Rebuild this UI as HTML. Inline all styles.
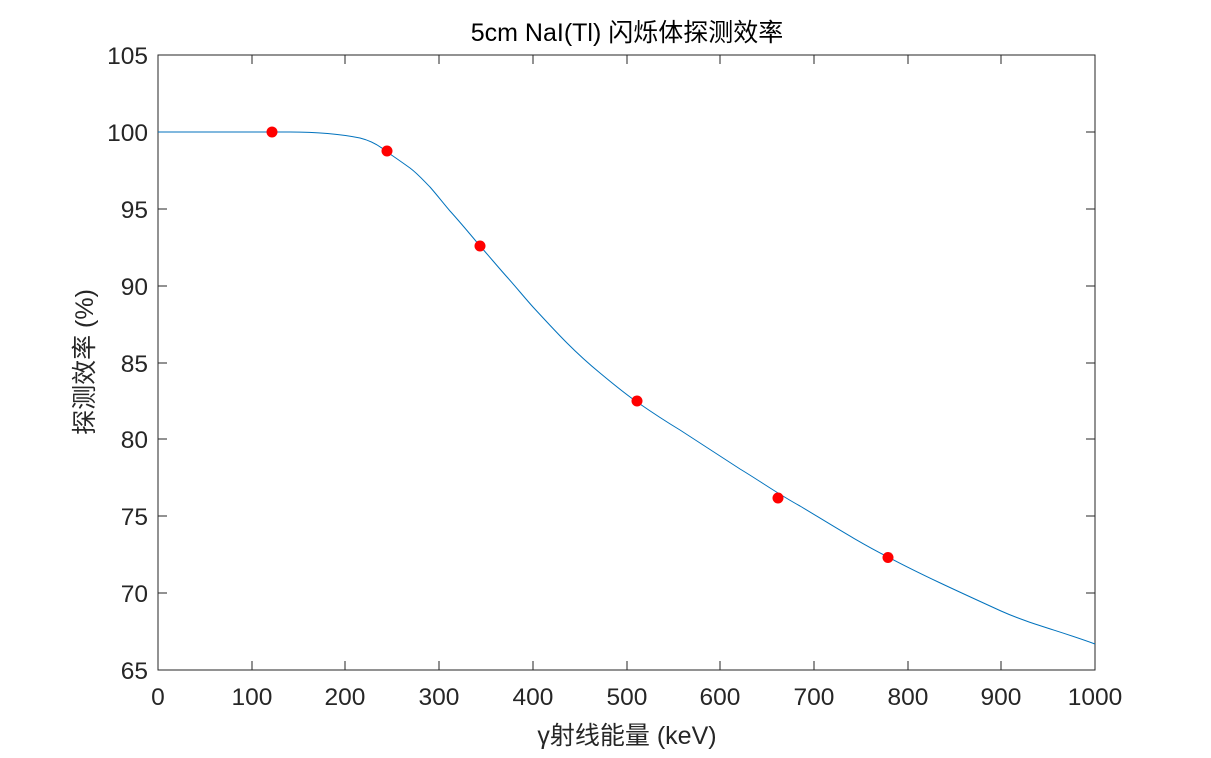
<!DOCTYPE html>
<html><head><meta charset="utf-8"><style>body{margin:0;background:#fff}</style></head><body>
<svg width="1211" height="753" xmlns="http://www.w3.org/2000/svg" font-family="Liberation Sans, Noto Sans CJK SC, sans-serif">
<rect width="1211" height="753" fill="#fff"/>
<rect x="158" y="55" width="937" height="615" fill="#fff" stroke="#262626" stroke-width="1"/>
<g stroke="#262626" stroke-width="1">
<path d="M158 670v-9M252 670v-9M345 670v-9M439 670v-9M533 670v-9M627 670v-9M720 670v-9M814 670v-9M908 670v-9M1001 670v-9M1095 670v-9"/>
<path d="M158 55v9M252 55v9M345 55v9M439 55v9M533 55v9M627 55v9M720 55v9M814 55v9M908 55v9M1001 55v9"/>
<path d="M158 593h9M158 516h9M158 439h9M158 363h9M158 286h9M158 209h9M158 132h9"/>
<path d="M1095 593h-9M1095 516h-9M1095 439h-9M1095 363h-9M1095 286h-9M1095 209h-9M1095 132h-9"/>
</g>
<g font-size="24.5" fill="#262626" text-anchor="middle">
<text x="158" y="705">0</text><text x="252" y="705">100</text><text x="345" y="705">200</text><text x="439" y="705">300</text><text x="533" y="705">400</text><text x="627" y="705">500</text><text x="720" y="705">600</text><text x="814" y="705">700</text><text x="908" y="705">800</text><text x="1001" y="705">900</text><text x="1095" y="705">1000</text>
</g>
<g font-size="24.5" fill="#262626" text-anchor="end">
<text x="148" y="679">65</text><text x="148" y="602">70</text><text x="148" y="525">75</text><text x="148" y="448">80</text><text x="148" y="372">85</text><text x="148" y="295">90</text><text x="148" y="218">95</text><text x="148" y="141">100</text><text x="148" y="64">105</text>
</g>
<text x="627" y="744" font-size="25" fill="#262626" text-anchor="middle">γ射线能量 (keV)</text>
<text transform="translate(93,362) rotate(-90)" font-size="25" fill="#262626" text-anchor="middle">探测效率 (%)</text>
<text x="627" y="41" font-size="25" fill="#000" text-anchor="middle">5cm NaI(Tl) 闪烁体探测效率</text>
<path fill="none" stroke="#0072BD" stroke-width="1" d="M158,132 L290,132 C315,132 340,134 360,138 C372,141 380,146 387,152 C396,158 403,163 410,168 C418,174 424,181 430,187 C437,195 444,204 450,211 C460,222 470,234 480,246 C489,256 498,267 507,277 C516,287 524,297 533,307 C545,320 556,332 567,343 C578,354 589,364 600,373 C612,383 624,393 637,402 C650,411 665,421 680,430 C700,443 720,456 740,469 C760,481 778,494 800,506 C830,524 860,543 888,557 C920,574 955,590 1001,611 C1030,624 1060,631 1095,644"/>
<g fill="#f00">
<circle cx="272" cy="132" r="5.5"/><circle cx="387" cy="151" r="5.5"/><circle cx="480" cy="246" r="5.5"/><circle cx="637" cy="401" r="5.5"/><circle cx="778" cy="498" r="5.5"/><circle cx="888" cy="557.5" r="5.5"/>
</g>
</svg>
</body></html>
